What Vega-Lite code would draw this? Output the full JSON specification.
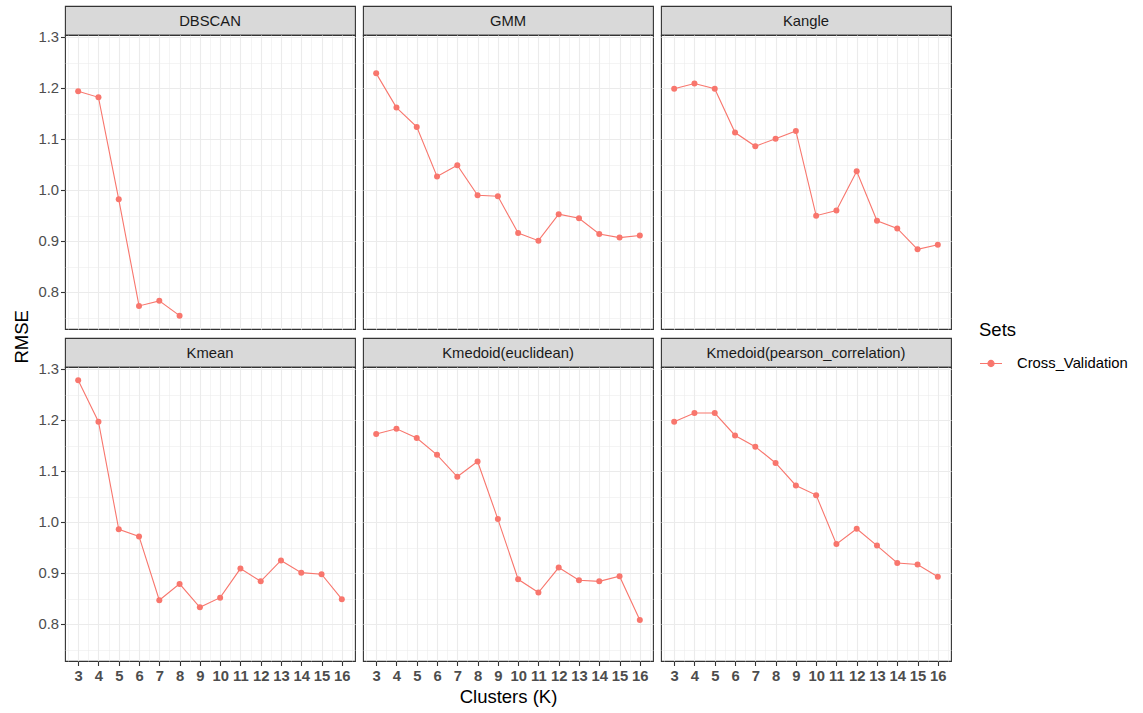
{
  "$schema": "https://vega.github.io/schema/vega-lite/v6.json",
  "padding": {"left": 12, "top": 5, "right": 5, "bottom": 5},
  "background": "#FFFFFF",
  "config": {"font": "Liberation Sans", "view": {"stroke": "#333333", "strokeWidth": 1.1}},
  "title": {"text": "RMSE", "orient": "left", "anchor": "middle", "frame": "bounds", "font": "Liberation Sans", "fontSize": 18.5, "fontWeight": "normal", "color": "#000000", "offset": 6, "dx": 19},
  "datasets": {
    "rmse": [
      {"method": "DBSCAN", "k": 3, "rmse": 1.194, "set": "Cross_Validation"},
      {"method": "DBSCAN", "k": 4, "rmse": 1.182, "set": "Cross_Validation"},
      {"method": "DBSCAN", "k": 5, "rmse": 0.982, "set": "Cross_Validation"},
      {"method": "DBSCAN", "k": 6, "rmse": 0.773, "set": "Cross_Validation"},
      {"method": "DBSCAN", "k": 7, "rmse": 0.783, "set": "Cross_Validation"},
      {"method": "DBSCAN", "k": 8, "rmse": 0.754, "set": "Cross_Validation"},
      {"method": "GMM", "k": 3, "rmse": 1.229, "set": "Cross_Validation"},
      {"method": "GMM", "k": 4, "rmse": 1.162, "set": "Cross_Validation"},
      {"method": "GMM", "k": 5, "rmse": 1.124, "set": "Cross_Validation"},
      {"method": "GMM", "k": 6, "rmse": 1.027, "set": "Cross_Validation"},
      {"method": "GMM", "k": 7, "rmse": 1.049, "set": "Cross_Validation"},
      {"method": "GMM", "k": 8, "rmse": 0.990, "set": "Cross_Validation"},
      {"method": "GMM", "k": 9, "rmse": 0.988, "set": "Cross_Validation"},
      {"method": "GMM", "k": 10, "rmse": 0.916, "set": "Cross_Validation"},
      {"method": "GMM", "k": 11, "rmse": 0.901, "set": "Cross_Validation"},
      {"method": "GMM", "k": 12, "rmse": 0.953, "set": "Cross_Validation"},
      {"method": "GMM", "k": 13, "rmse": 0.945, "set": "Cross_Validation"},
      {"method": "GMM", "k": 14, "rmse": 0.914, "set": "Cross_Validation"},
      {"method": "GMM", "k": 15, "rmse": 0.907, "set": "Cross_Validation"},
      {"method": "GMM", "k": 16, "rmse": 0.911, "set": "Cross_Validation"},
      {"method": "Kangle", "k": 3, "rmse": 1.199, "set": "Cross_Validation"},
      {"method": "Kangle", "k": 4, "rmse": 1.209, "set": "Cross_Validation"},
      {"method": "Kangle", "k": 5, "rmse": 1.199, "set": "Cross_Validation"},
      {"method": "Kangle", "k": 6, "rmse": 1.113, "set": "Cross_Validation"},
      {"method": "Kangle", "k": 7, "rmse": 1.086, "set": "Cross_Validation"},
      {"method": "Kangle", "k": 8, "rmse": 1.101, "set": "Cross_Validation"},
      {"method": "Kangle", "k": 9, "rmse": 1.116, "set": "Cross_Validation"},
      {"method": "Kangle", "k": 10, "rmse": 0.950, "set": "Cross_Validation"},
      {"method": "Kangle", "k": 11, "rmse": 0.960, "set": "Cross_Validation"},
      {"method": "Kangle", "k": 12, "rmse": 1.037, "set": "Cross_Validation"},
      {"method": "Kangle", "k": 13, "rmse": 0.940, "set": "Cross_Validation"},
      {"method": "Kangle", "k": 14, "rmse": 0.925, "set": "Cross_Validation"},
      {"method": "Kangle", "k": 15, "rmse": 0.884, "set": "Cross_Validation"},
      {"method": "Kangle", "k": 16, "rmse": 0.893, "set": "Cross_Validation"},
      {"method": "Kmean", "k": 3, "rmse": 1.278, "set": "Cross_Validation"},
      {"method": "Kmean", "k": 4, "rmse": 1.197, "set": "Cross_Validation"},
      {"method": "Kmean", "k": 5, "rmse": 0.986, "set": "Cross_Validation"},
      {"method": "Kmean", "k": 6, "rmse": 0.972, "set": "Cross_Validation"},
      {"method": "Kmean", "k": 7, "rmse": 0.847, "set": "Cross_Validation"},
      {"method": "Kmean", "k": 8, "rmse": 0.879, "set": "Cross_Validation"},
      {"method": "Kmean", "k": 9, "rmse": 0.833, "set": "Cross_Validation"},
      {"method": "Kmean", "k": 10, "rmse": 0.852, "set": "Cross_Validation"},
      {"method": "Kmean", "k": 11, "rmse": 0.909, "set": "Cross_Validation"},
      {"method": "Kmean", "k": 12, "rmse": 0.884, "set": "Cross_Validation"},
      {"method": "Kmean", "k": 13, "rmse": 0.925, "set": "Cross_Validation"},
      {"method": "Kmean", "k": 14, "rmse": 0.901, "set": "Cross_Validation"},
      {"method": "Kmean", "k": 15, "rmse": 0.898, "set": "Cross_Validation"},
      {"method": "Kmean", "k": 16, "rmse": 0.849, "set": "Cross_Validation"},
      {"method": "Kmedoid(euclidean)", "k": 3, "rmse": 1.173, "set": "Cross_Validation"},
      {"method": "Kmedoid(euclidean)", "k": 4, "rmse": 1.183, "set": "Cross_Validation"},
      {"method": "Kmedoid(euclidean)", "k": 5, "rmse": 1.165, "set": "Cross_Validation"},
      {"method": "Kmedoid(euclidean)", "k": 6, "rmse": 1.132, "set": "Cross_Validation"},
      {"method": "Kmedoid(euclidean)", "k": 7, "rmse": 1.089, "set": "Cross_Validation"},
      {"method": "Kmedoid(euclidean)", "k": 8, "rmse": 1.119, "set": "Cross_Validation"},
      {"method": "Kmedoid(euclidean)", "k": 9, "rmse": 1.006, "set": "Cross_Validation"},
      {"method": "Kmedoid(euclidean)", "k": 10, "rmse": 0.888, "set": "Cross_Validation"},
      {"method": "Kmedoid(euclidean)", "k": 11, "rmse": 0.862, "set": "Cross_Validation"},
      {"method": "Kmedoid(euclidean)", "k": 12, "rmse": 0.911, "set": "Cross_Validation"},
      {"method": "Kmedoid(euclidean)", "k": 13, "rmse": 0.886, "set": "Cross_Validation"},
      {"method": "Kmedoid(euclidean)", "k": 14, "rmse": 0.884, "set": "Cross_Validation"},
      {"method": "Kmedoid(euclidean)", "k": 15, "rmse": 0.894, "set": "Cross_Validation"},
      {"method": "Kmedoid(euclidean)", "k": 16, "rmse": 0.808, "set": "Cross_Validation"},
      {"method": "Kmedoid(pearson_correlation)", "k": 3, "rmse": 1.197, "set": "Cross_Validation"},
      {"method": "Kmedoid(pearson_correlation)", "k": 4, "rmse": 1.214, "set": "Cross_Validation"},
      {"method": "Kmedoid(pearson_correlation)", "k": 5, "rmse": 1.214, "set": "Cross_Validation"},
      {"method": "Kmedoid(pearson_correlation)", "k": 6, "rmse": 1.170, "set": "Cross_Validation"},
      {"method": "Kmedoid(pearson_correlation)", "k": 7, "rmse": 1.148, "set": "Cross_Validation"},
      {"method": "Kmedoid(pearson_correlation)", "k": 8, "rmse": 1.116, "set": "Cross_Validation"},
      {"method": "Kmedoid(pearson_correlation)", "k": 9, "rmse": 1.072, "set": "Cross_Validation"},
      {"method": "Kmedoid(pearson_correlation)", "k": 10, "rmse": 1.053, "set": "Cross_Validation"},
      {"method": "Kmedoid(pearson_correlation)", "k": 11, "rmse": 0.957, "set": "Cross_Validation"},
      {"method": "Kmedoid(pearson_correlation)", "k": 12, "rmse": 0.987, "set": "Cross_Validation"},
      {"method": "Kmedoid(pearson_correlation)", "k": 13, "rmse": 0.954, "set": "Cross_Validation"},
      {"method": "Kmedoid(pearson_correlation)", "k": 14, "rmse": 0.920, "set": "Cross_Validation"},
      {"method": "Kmedoid(pearson_correlation)", "k": 15, "rmse": 0.917, "set": "Cross_Validation"},
      {"method": "Kmedoid(pearson_correlation)", "k": 16, "rmse": 0.893, "set": "Cross_Validation"}
    ]
  },
  "spacing": 7,
  "vconcat": [
    {
      "spacing": 6,
      "hconcat": [
        {
          "spacing": 0,
          "bounds": "flush",
          "vconcat": [
            {
              "width": 290, "height": 29,
              "view": {"fill": "#D9D9D9", "stroke": "#333333", "strokeWidth": 1.1},
              "data": {"name": "rmse"},
              "transform": [{"filter": "datum.method === 'DBSCAN'"}, {"aggregate": [{"op": "count", "as": "n"}], "groupby": ["method"]}],
              "mark": {"type": "text", "font": "Liberation Sans", "fontSize": 14.8, "color": "#1A1A1A", "dy": 1},
              "encoding": {"text": {"field": "method", "type": "nominal"}}
            },
            {
              "width": 290, "height": 294,
              "data": {"name": "rmse"},
              "transform": [{"filter": "datum.method === 'DBSCAN'"}],
              "encoding": {
                "x": {"field": "k", "type": "quantitative", "scale": {"domain": [2.35, 16.65], "nice": false, "zero": false},
                  "axis": {"values": [2.5,3,3.5,4,4.5,5,5.5,6,6.5,7,7.5,8,8.5,9,9.5,10,10.5,11,11.5,12,12.5,13,13.5,14,14.5,15,15.5,16,16.5], "orient": "bottom", "domain": false, "labels": false, "ticks": false, "title": null, "grid": true, "gridColor": "#EBEBEB", "gridWidth": {"condition": {"test": "datum.value % 1 === 0", "value": 1.1}, "value": 0.55}}},
                "y": {"field": "rmse", "type": "quantitative", "scale": {"domain": [0.7278, 1.3042], "nice": false, "zero": false},
                  "axis": {"values": [0.75,0.8,0.85,0.9,0.95,1,1.05,1.1,1.15,1.2,1.25,1.3], "orient": "left", "domain": false, "title": null, "grid": true, "gridColor": "#EBEBEB", "gridWidth": {"condition": {"test": "abs(datum.value*10 - round(datum.value*10)) < 0.01", "value": 1.1}, "value": 0.55}, "ticks": true, "tickColor": "#333333", "tickSize": 4.5, "tickWidth": 1.1, "tickOpacity": {"condition": {"test": "abs(datum.value*10 - round(datum.value*10)) < 0.01", "value": 1}, "value": 0}, "labelExpr": "abs(datum.value*10 - round(datum.value*10)) < 0.01 ? format(datum.value, '.1f') : ''", "labelFont": "Liberation Sans", "labelFontSize": 14.8, "labelColor": "#4D4D4D", "labelPadding": 2, "labelOverlap": false, "labelFlush": false}},
                "color": {"field": "set", "type": "nominal", "scale": {"domain": ["Cross_Validation"], "range": ["#F8766D"]},
                  "legend": {"orient": "none", "legendX": 914, "legendY": 315, "padding": 0, "title": "Sets", "titleFont": "Liberation Sans", "titleFontSize": 18.5, "titleFontWeight": "normal", "titleColor": "#000000", "titlePadding": 12, "labelFont": "Liberation Sans", "labelFontSize": 14.8, "labelColor": "#000000", "labelOffset": 14, "symbolType": "M-1,0L1,0M-0.28,0A0.28,0.28,0,1,1,0.28,0A0.28,0.28,0,1,1,-0.28,0Z", "symbolSize": 484, "symbolStrokeWidth": 1.1, "symbolFillColor": "#F8766D", "symbolStrokeColor": "#F8766D", "symbolOpacity": 1,
                    "encode": {"symbols": {"update": {"stroke": {"value": "#F8766D"}, "strokeWidth": {"value": 1.1}, "fill": {"value": "#F8766D"}, "opacity": {"value": 1}}}}}}
              },
              "layer": [
                {"mark": {"type": "line", "strokeWidth": 1.1}, "encoding": {}},
                {"mark": {"type": "point", "filled": true, "size": 36, "opacity": 1}, "encoding": {}}
              ]
            }
          ]
        },
        {
          "spacing": 0,
          "bounds": "flush",
          "vconcat": [
            {
              "width": 290, "height": 29,
              "view": {"fill": "#D9D9D9", "stroke": "#333333", "strokeWidth": 1.1},
              "data": {"name": "rmse"},
              "transform": [{"filter": "datum.method === 'GMM'"}, {"aggregate": [{"op": "count", "as": "n"}], "groupby": ["method"]}],
              "mark": {"type": "text", "font": "Liberation Sans", "fontSize": 14.8, "color": "#1A1A1A", "dy": 1},
              "encoding": {"text": {"field": "method", "type": "nominal"}}
            },
            {
              "width": 290, "height": 294,
              "data": {"name": "rmse"},
              "transform": [{"filter": "datum.method === 'GMM'"}],
              "encoding": {
                "x": {"field": "k", "type": "quantitative", "scale": {"domain": [2.35, 16.65], "nice": false, "zero": false},
                  "axis": {"values": [2.5,3,3.5,4,4.5,5,5.5,6,6.5,7,7.5,8,8.5,9,9.5,10,10.5,11,11.5,12,12.5,13,13.5,14,14.5,15,15.5,16,16.5], "orient": "bottom", "domain": false, "labels": false, "ticks": false, "title": null, "grid": true, "gridColor": "#EBEBEB", "gridWidth": {"condition": {"test": "datum.value % 1 === 0", "value": 1.1}, "value": 0.55}}},
                "y": {"field": "rmse", "type": "quantitative", "scale": {"domain": [0.7278, 1.3042], "nice": false, "zero": false},
                  "axis": {"values": [0.75,0.8,0.85,0.9,0.95,1,1.05,1.1,1.15,1.2,1.25,1.3], "orient": "left", "domain": false, "labels": false, "ticks": false, "title": null, "grid": true, "gridColor": "#EBEBEB", "gridWidth": {"condition": {"test": "abs(datum.value*10 - round(datum.value*10)) < 0.01", "value": 1.1}, "value": 0.55}}}
              },
              "layer": [
                {"mark": {"type": "line", "strokeWidth": 1.1, "color": "#F8766D"}, "encoding": {}},
                {"mark": {"type": "point", "filled": true, "size": 36, "opacity": 1, "color": "#F8766D"}, "encoding": {}}
              ]
            }
          ]
        },
        {
          "spacing": 0,
          "bounds": "flush",
          "vconcat": [
            {
              "width": 290, "height": 29,
              "view": {"fill": "#D9D9D9", "stroke": "#333333", "strokeWidth": 1.1},
              "data": {"name": "rmse"},
              "transform": [{"filter": "datum.method === 'Kangle'"}, {"aggregate": [{"op": "count", "as": "n"}], "groupby": ["method"]}],
              "mark": {"type": "text", "font": "Liberation Sans", "fontSize": 14.8, "color": "#1A1A1A", "dy": 1},
              "encoding": {"text": {"field": "method", "type": "nominal"}}
            },
            {
              "width": 290, "height": 294,
              "data": {"name": "rmse"},
              "transform": [{"filter": "datum.method === 'Kangle'"}],
              "encoding": {
                "x": {"field": "k", "type": "quantitative", "scale": {"domain": [2.35, 16.65], "nice": false, "zero": false},
                  "axis": {"values": [2.5,3,3.5,4,4.5,5,5.5,6,6.5,7,7.5,8,8.5,9,9.5,10,10.5,11,11.5,12,12.5,13,13.5,14,14.5,15,15.5,16,16.5], "orient": "bottom", "domain": false, "labels": false, "ticks": false, "title": null, "grid": true, "gridColor": "#EBEBEB", "gridWidth": {"condition": {"test": "datum.value % 1 === 0", "value": 1.1}, "value": 0.55}}},
                "y": {"field": "rmse", "type": "quantitative", "scale": {"domain": [0.7278, 1.3042], "nice": false, "zero": false},
                  "axis": {"values": [0.75,0.8,0.85,0.9,0.95,1,1.05,1.1,1.15,1.2,1.25,1.3], "orient": "left", "domain": false, "labels": false, "ticks": false, "title": null, "grid": true, "gridColor": "#EBEBEB", "gridWidth": {"condition": {"test": "abs(datum.value*10 - round(datum.value*10)) < 0.01", "value": 1.1}, "value": 0.55}}}
              },
              "layer": [
                {"mark": {"type": "line", "strokeWidth": 1.1, "color": "#F8766D"}, "encoding": {}},
                {"mark": {"type": "point", "filled": true, "size": 36, "opacity": 1, "color": "#F8766D"}, "encoding": {}}
              ]
            }
          ]
        }
      ]
    },
    {
      "spacing": 6,
      "hconcat": [
        {
          "spacing": 0,
          "bounds": "flush",
          "vconcat": [
            {
              "width": 290, "height": 29,
              "view": {"fill": "#D9D9D9", "stroke": "#333333", "strokeWidth": 1.1},
              "data": {"name": "rmse"},
              "transform": [{"filter": "datum.method === 'Kmean'"}, {"aggregate": [{"op": "count", "as": "n"}], "groupby": ["method"]}],
              "mark": {"type": "text", "font": "Liberation Sans", "fontSize": 14.8, "color": "#1A1A1A", "dy": 1},
              "encoding": {"text": {"field": "method", "type": "nominal"}}
            },
            {
              "width": 290, "height": 294,
              "data": {"name": "rmse"},
              "transform": [{"filter": "datum.method === 'Kmean'"}],
              "encoding": {
                "x": {"field": "k", "type": "quantitative", "scale": {"domain": [2.35, 16.65], "nice": false, "zero": false},
                  "axis": {"values": [2.5,3,3.5,4,4.5,5,5.5,6,6.5,7,7.5,8,8.5,9,9.5,10,10.5,11,11.5,12,12.5,13,13.5,14,14.5,15,15.5,16,16.5], "orient": "bottom", "domain": false, "title": null, "grid": true, "gridColor": "#EBEBEB", "gridWidth": {"condition": {"test": "datum.value % 1 === 0", "value": 1.1}, "value": 0.55}, "ticks": true, "tickColor": "#333333", "tickSize": 4.5, "tickWidth": 1.1, "tickOpacity": {"condition": {"test": "datum.value % 1 === 0", "value": 1}, "value": 0}, "labelExpr": "datum.value % 1 === 0 ? format(datum.value, 'd') : ''", "labelFont": "Liberation Sans", "labelFontSize": 14.8, "labelFontWeight": "bold", "labelColor": "#4D4D4D", "labelPadding": 3, "labelOverlap": false, "labelFlush": false}},
                "y": {"field": "rmse", "type": "quantitative", "scale": {"domain": [0.7278, 1.3042], "nice": false, "zero": false},
                  "axis": {"values": [0.75,0.8,0.85,0.9,0.95,1,1.05,1.1,1.15,1.2,1.25,1.3], "orient": "left", "domain": false, "title": null, "grid": true, "gridColor": "#EBEBEB", "gridWidth": {"condition": {"test": "abs(datum.value*10 - round(datum.value*10)) < 0.01", "value": 1.1}, "value": 0.55}, "ticks": true, "tickColor": "#333333", "tickSize": 4.5, "tickWidth": 1.1, "tickOpacity": {"condition": {"test": "abs(datum.value*10 - round(datum.value*10)) < 0.01", "value": 1}, "value": 0}, "labelExpr": "abs(datum.value*10 - round(datum.value*10)) < 0.01 ? format(datum.value, '.1f') : ''", "labelFont": "Liberation Sans", "labelFontSize": 14.8, "labelColor": "#4D4D4D", "labelPadding": 2, "labelOverlap": false, "labelFlush": false}}
              },
              "layer": [
                {"mark": {"type": "line", "strokeWidth": 1.1, "color": "#F8766D"}, "encoding": {}},
                {"mark": {"type": "point", "filled": true, "size": 36, "opacity": 1, "color": "#F8766D"}, "encoding": {}}
              ]
            }
          ]
        },
        {
          "spacing": 0,
          "bounds": "flush",
          "vconcat": [
            {
              "width": 290, "height": 29,
              "view": {"fill": "#D9D9D9", "stroke": "#333333", "strokeWidth": 1.1},
              "data": {"name": "rmse"},
              "transform": [{"filter": "datum.method === 'Kmedoid(euclidean)'"}, {"aggregate": [{"op": "count", "as": "n"}], "groupby": ["method"]}],
              "mark": {"type": "text", "font": "Liberation Sans", "fontSize": 14.8, "color": "#1A1A1A", "dy": 1},
              "encoding": {"text": {"field": "method", "type": "nominal"}}
            },
            {
              "width": 290, "height": 294,
              "data": {"name": "rmse"},
              "transform": [{"filter": "datum.method === 'Kmedoid(euclidean)'"}],
              "encoding": {
                "x": {"field": "k", "type": "quantitative", "scale": {"domain": [2.35, 16.65], "nice": false, "zero": false},
                  "axis": {"values": [2.5,3,3.5,4,4.5,5,5.5,6,6.5,7,7.5,8,8.5,9,9.5,10,10.5,11,11.5,12,12.5,13,13.5,14,14.5,15,15.5,16,16.5], "orient": "bottom", "domain": false, "grid": true, "gridColor": "#EBEBEB", "gridWidth": {"condition": {"test": "datum.value % 1 === 0", "value": 1.1}, "value": 0.55}, "ticks": true, "tickColor": "#333333", "tickSize": 4.5, "tickWidth": 1.1, "tickOpacity": {"condition": {"test": "datum.value % 1 === 0", "value": 1}, "value": 0}, "labelExpr": "datum.value % 1 === 0 ? format(datum.value, 'd') : ''", "labelFont": "Liberation Sans", "labelFontSize": 14.8, "labelFontWeight": "bold", "labelColor": "#4D4D4D", "labelPadding": 3, "labelOverlap": false, "labelFlush": false,
                    "title": "Clusters (K)", "titleFont": "Liberation Sans", "titleFontSize": 18.5, "titleFontWeight": "normal", "titleColor": "#000000", "titlePadding": 4}},
                "y": {"field": "rmse", "type": "quantitative", "scale": {"domain": [0.7278, 1.3042], "nice": false, "zero": false},
                  "axis": {"values": [0.75,0.8,0.85,0.9,0.95,1,1.05,1.1,1.15,1.2,1.25,1.3], "orient": "left", "domain": false, "labels": false, "ticks": false, "title": null, "grid": true, "gridColor": "#EBEBEB", "gridWidth": {"condition": {"test": "abs(datum.value*10 - round(datum.value*10)) < 0.01", "value": 1.1}, "value": 0.55}}}
              },
              "layer": [
                {"mark": {"type": "line", "strokeWidth": 1.1, "color": "#F8766D"}, "encoding": {}},
                {"mark": {"type": "point", "filled": true, "size": 36, "opacity": 1, "color": "#F8766D"}, "encoding": {}}
              ]
            }
          ]
        },
        {
          "spacing": 0,
          "bounds": "flush",
          "vconcat": [
            {
              "width": 290, "height": 29,
              "view": {"fill": "#D9D9D9", "stroke": "#333333", "strokeWidth": 1.1},
              "data": {"name": "rmse"},
              "transform": [{"filter": "datum.method === 'Kmedoid(pearson_correlation)'"}, {"aggregate": [{"op": "count", "as": "n"}], "groupby": ["method"]}],
              "mark": {"type": "text", "font": "Liberation Sans", "fontSize": 14.8, "color": "#1A1A1A", "dy": 1},
              "encoding": {"text": {"field": "method", "type": "nominal"}}
            },
            {
              "width": 290, "height": 294,
              "data": {"name": "rmse"},
              "transform": [{"filter": "datum.method === 'Kmedoid(pearson_correlation)'"}],
              "encoding": {
                "x": {"field": "k", "type": "quantitative", "scale": {"domain": [2.35, 16.65], "nice": false, "zero": false},
                  "axis": {"values": [2.5,3,3.5,4,4.5,5,5.5,6,6.5,7,7.5,8,8.5,9,9.5,10,10.5,11,11.5,12,12.5,13,13.5,14,14.5,15,15.5,16,16.5], "orient": "bottom", "domain": false, "title": null, "grid": true, "gridColor": "#EBEBEB", "gridWidth": {"condition": {"test": "datum.value % 1 === 0", "value": 1.1}, "value": 0.55}, "ticks": true, "tickColor": "#333333", "tickSize": 4.5, "tickWidth": 1.1, "tickOpacity": {"condition": {"test": "datum.value % 1 === 0", "value": 1}, "value": 0}, "labelExpr": "datum.value % 1 === 0 ? format(datum.value, 'd') : ''", "labelFont": "Liberation Sans", "labelFontSize": 14.8, "labelFontWeight": "bold", "labelColor": "#4D4D4D", "labelPadding": 3, "labelOverlap": false, "labelFlush": false}},
                "y": {"field": "rmse", "type": "quantitative", "scale": {"domain": [0.7278, 1.3042], "nice": false, "zero": false},
                  "axis": {"values": [0.75,0.8,0.85,0.9,0.95,1,1.05,1.1,1.15,1.2,1.25,1.3], "orient": "left", "domain": false, "labels": false, "ticks": false, "title": null, "grid": true, "gridColor": "#EBEBEB", "gridWidth": {"condition": {"test": "abs(datum.value*10 - round(datum.value*10)) < 0.01", "value": 1.1}, "value": 0.55}}}
              },
              "layer": [
                {"mark": {"type": "line", "strokeWidth": 1.1, "color": "#F8766D"}, "encoding": {}},
                {"mark": {"type": "point", "filled": true, "size": 36, "opacity": 1, "color": "#F8766D"}, "encoding": {}}
              ]
            }
          ]
        }
      ]
    }
  ]
}
